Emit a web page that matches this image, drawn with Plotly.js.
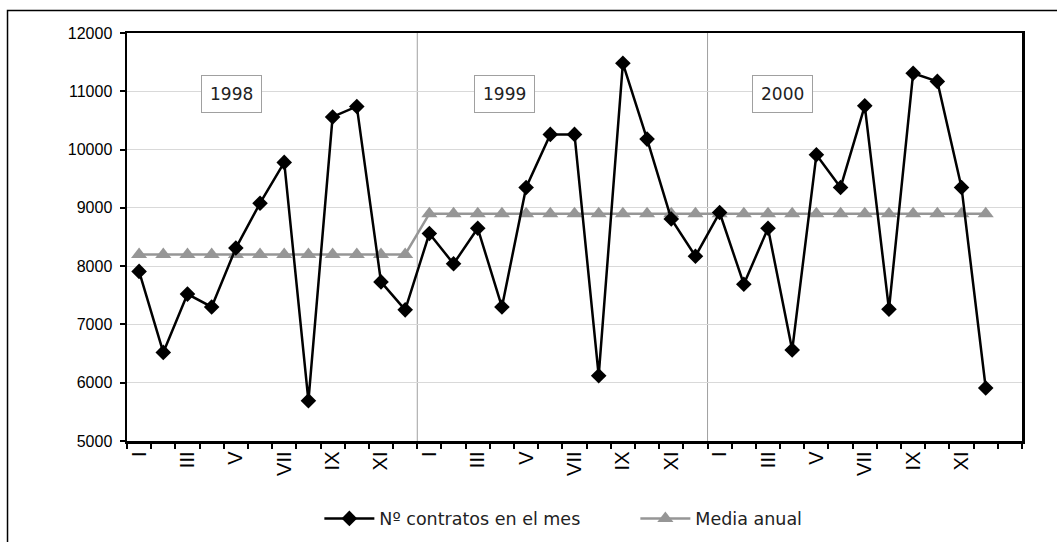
<!DOCTYPE html>
<html>
<head>
<meta charset="utf-8">
<script src="https://cdn.plot.ly/plotly-3.0.1.min.js"></script>
<style>
  html, body { margin: 0; padding: 0; background: #fff; }
  #chart { width: 1057px; height: 542px; }
</style>
</head>
<body>
<div id="chart"></div>
<script>
// ---- data ----
const years = ['1998', '1999', '2000'];
const monthLabels = ['I', 'II', 'III', 'IV', 'V', 'VI', 'VII', 'VIII', 'IX', 'X', 'XI', 'XII'];
const contratos1998 = [7910, 6520, 7520, 7300, 8310, 9080, 9780, 5690, 10560, 10740, 7730, 7250];
const contratos1999 = [8560, 8040, 8650, 7300, 9350, 10260, 10260, 6120, 11480, 10180, 8810, 8170];
const contratos2000 = [8920, 7690, 8650, 6560, 9910, 9350, 10750, 7260, 11310, 11170, 9350, 5910];
const mediaAnual = [8200, 8900, 8900];
const seriesNames = ['Nº contratos en el mes', 'Media anual'];

// ---- build ----
const contratos = [contratos1998, contratos1999, contratos2000];
const xs = [], yC = [], yM = [], tickvals = [], ticktext = [];
contratos.forEach((arr, yi) => {
  arr.forEach((v, mi) => {
    const idx = yi * 12 + mi + 1;
    xs.push(idx);
    yC.push(v);
    yM.push(mediaAnual[yi]);
    if (mi % 2 === 0) { tickvals.push(idx); ticktext.push(monthLabels[mi]); }
  });
});
const nCats = xs.length + 1;
const boundaries = [];
for (let i = 0; i <= nCats; i++) boundaries.push(i + 0.5);

const traceContratos = {
  x: xs, y: yC, name: seriesNames[0], type: 'scatter', mode: 'lines+markers',
  line: { color: '#000000', width: 2.5 },
  marker: { symbol: 'diamond', size: 12, color: '#000000' }
};
const traceMedia = {
  x: xs, y: yM, name: seriesNames[1], type: 'scatter', mode: 'lines+markers',
  line: { color: '#969696', width: 2.5 },
  marker: { symbol: 'triangle-up', size: 14, color: '#969696' }
};
// draw media under contratos
const data = [traceMedia, traceContratos];

const yearLabelOffset = [3.8, 3.1, 2.6];
const annotations = years.map((yr, i) => ({
  x: i * 12 + 1 + yearLabelOffset[i], y: 0.897, xref: 'x', yref: 'paper',
  text: yr, showarrow: false,
  font: { family: 'DejaVu Sans', size: 17, color: '#222222' },
  bordercolor: '#a0a0a0', borderwidth: 1, borderpad: 8, bgcolor: '#ffffff'
}));

const shapes = [];
for (let i = 1; i < years.length; i++) {
  shapes.push({
    type: 'line', xref: 'x', yref: 'paper', x0: i * 12 + 0.5, x1: i * 12 + 0.5, y0: 0, y1: 1,
    line: { color: '#a0a0a0', width: 1 }, layer: 'below'
  });
}
// outer chart frame
shapes.push({
  type: 'rect', xref: 'paper', yref: 'paper', x0: -0.1335, x1: 1.05, y0: -0.3, y1: 1.055,
  line: { color: '#000000', width: 1.5 }, fillcolor: 'rgba(0,0,0,0)', layer: 'below'
});

const layout = {
  width: 1057, height: 542,
  margin: { l: 127, r: 35, t: 33, b: 101, pad: 0, autoexpand: false },
  paper_bgcolor: '#ffffff', plot_bgcolor: '#ffffff',
  showlegend: true,
  legend: {
    orientation: 'h', x: 0.568, xanchor: 'center', y: -0.19, yanchor: 'middle',
    font: { family: 'DejaVu Sans', size: 17.5, color: '#222222' },
    traceorder: 'reversed', itemwidth: 50, entrywidth: 251, entrywidthmode: 'pixels'
  },
  xaxis: {
    range: [0.5, nCats + 0.5], tickmode: 'array', tickvals: tickvals, ticktext: ticktext,
    tickangle: -90, ticks: '', showgrid: false, zeroline: false,
    showline: true, linecolor: '#000000', linewidth: 2.5, mirror: true,
    tickfont: { family: 'Liberation Sans', size: 20, color: '#000000' },
    minor: { tickmode: 'array', tickvals: boundaries, ticks: 'outside', ticklen: 5, tickwidth: 2, tickcolor: '#000000', showgrid: false },
    fixedrange: true
  },
  yaxis: {
    range: [5000, 12000], dtick: 1000, tick0: 5000, tickformat: 'd',
    ticks: 'outside', ticklen: 5, tickwidth: 2, tickcolor: '#000000',
    showgrid: true, gridcolor: '#d9d9d9', gridwidth: 1, zeroline: false,
    showline: true, linecolor: '#000000', linewidth: 2.5, mirror: true,
    tickfont: { family: 'Liberation Sans', size: 16, color: '#000000' },
    ticklabelstandoff: 4,
    fixedrange: true
  },
  annotations: annotations,
  shapes: shapes
};

Plotly.newPlot('chart', data, layout, { displayModeBar: false, staticPlot: true });
</script>
</body>
</html>
